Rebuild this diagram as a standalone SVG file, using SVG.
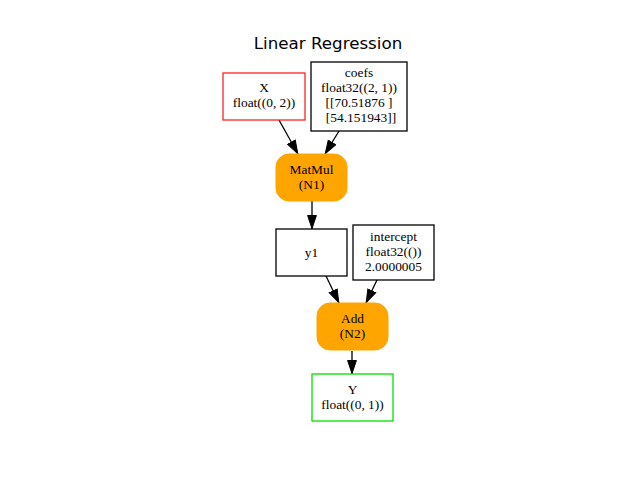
<svg xmlns="http://www.w3.org/2000/svg" width="640" height="480" viewBox="0 0 640 480">
<defs>
<marker id="ah" viewBox="0 0 14 10" refX="14" refY="5" markerWidth="14" markerHeight="10" markerUnits="userSpaceOnUse" orient="auto">
<path d="M0.5,0.6 L13.5,5 L0.5,9.4 Z" fill="#000" stroke="#000" stroke-width="1"/>
</marker>
</defs>
<style>
.t{font-family:"Liberation Serif","Times New Roman",serif;font-size:13.4px;fill:#000;text-anchor:middle}
.title{font-family:"DejaVu Sans",sans-serif;font-size:16.7px;fill:#000;text-anchor:middle}
.box{fill:#fff;stroke:#000;stroke-width:1.3}
.op{fill:#ffa500;stroke:#ffa500;stroke-width:1}
.e{fill:none;stroke:#000;stroke-width:1.3;marker-end:url(#ah)}
</style>
<rect width="640" height="480" fill="#fff"/>
<text class="title" x="328" y="49">Linear Regression</text>
<g id="edges">
<line class="e" x1="279" y1="120" x2="298" y2="154"/>
<line class="e" x1="339" y1="131" x2="325" y2="154"/>
<line class="e" x1="312" y1="201" x2="312" y2="229"/>
<line class="e" x1="326" y1="276" x2="339" y2="303"/>
<line class="e" x1="377" y1="280" x2="366" y2="303"/>
<line class="e" x1="352" y1="351" x2="352" y2="374"/>
</g>
<g id="X">
<rect class="box" x="223" y="73" width="82" height="47" style="stroke:#ff2020"/>
<text class="t" x="264" y="92">X</text>
<text class="t" x="264" y="107">float((0, 2))</text>
</g>
<g id="coefs">
<rect class="box" x="311" y="62" width="96" height="69"/>
<text class="t" x="359" y="77">coefs</text>
<text class="t" x="359" y="92">float32((2, 1))</text>
<text class="t" x="359" y="107">[[70.51876 ]</text>
<text class="t" x="361" y="122">[54.151943]]</text>
</g>
<g id="N1">
<rect class="op" x="276" y="154" width="71" height="47" rx="13"/>
<text class="t" x="311.5" y="174">MatMul</text>
<text class="t" x="311.5" y="189">(N1)</text>
</g>
<g id="y1">
<rect class="box" x="276" y="229" width="71" height="47"/>
<text class="t" x="311.5" y="257">y1</text>
</g>
<g id="intercept">
<rect class="box" x="353" y="225" width="81" height="55"/>
<text class="t" x="393.5" y="241">intercept</text>
<text class="t" x="393.5" y="256">float32(())</text>
<text class="t" x="393.5" y="271">2.0000005</text>
</g>
<g id="N2">
<rect class="op" x="317" y="303" width="71" height="47" rx="13"/>
<text class="t" x="352.5" y="323">Add</text>
<text class="t" x="352.5" y="338">(N2)</text>
</g>
<g id="Y">
<rect class="box" x="312" y="374" width="81" height="47" style="stroke:#00e000"/>
<text class="t" x="352.5" y="394">Y</text>
<text class="t" x="352.5" y="409">float((0, 1))</text>
</g>
</svg>
